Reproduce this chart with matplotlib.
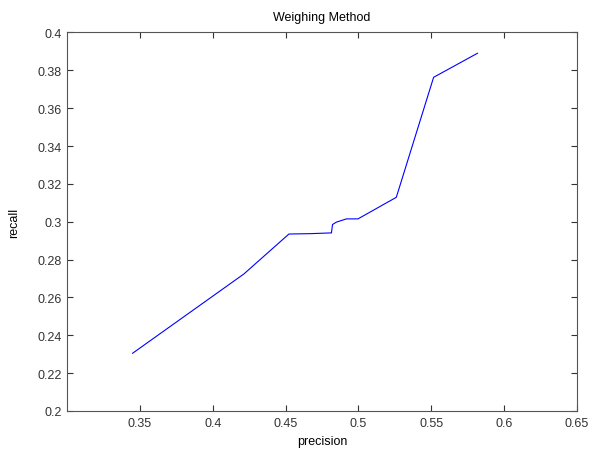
import matplotlib
matplotlib.use("Agg")
import matplotlib.pyplot as plt

# ====== Data ======
precision = [0.345, 0.4214, 0.4523, 0.4671, 0.4815, 0.4822, 0.4849, 0.4918, 0.4997, 0.526, 0.5516, 0.5817]
recall = [0.2305, 0.2724, 0.2935, 0.2937, 0.2941, 0.2985, 0.2998, 0.3015, 0.3015, 0.3129, 0.3763, 0.389]

x_ticks = [0.35, 0.4, 0.45, 0.5, 0.55, 0.6, 0.65]
x_labels = ["0.35", "0.4", "0.45", "0.5", "0.55", "0.6", "0.65"]
y_ticks = [0.2, 0.22, 0.24, 0.26, 0.28, 0.3, 0.32, 0.34, 0.36, 0.38, 0.4]
y_labels = ["0.2", "0.22", "0.24", "0.26", "0.28", "0.3", "0.32", "0.34", "0.36", "0.38", "0.4"]

plt.rcParams['font.family'] = ['Liberation Sans', 'DejaVu Sans']

fig = plt.figure(figsize=(5.93, 4.52), dpi=100)
ax = fig.add_axes([0.113, 0.0885, 0.860, 0.8375])

ax.plot(precision, recall, color="blue", linewidth=0.8)

ax.set_xlim(0.3, 0.65)
ax.set_ylim(0.2, 0.4)
ax.set_xticks(x_ticks)
ax.set_xticklabels(x_labels)
ax.set_yticks(y_ticks)
ax.set_yticklabels(y_labels)

ax.tick_params(direction="in", top=True, right=True, length=4, width=0.8,
               labelsize=9, colors="#333333", pad=4)
for s in ax.spines.values():
    s.set_color("#555555")
    s.set_linewidth(0.8)

ax.set_title("Weighing Method", fontsize=9, pad=9)
ax.set_xlabel("precision", fontsize=9, labelpad=5)
ax.set_ylabel("recall", fontsize=9, labelpad=12)

fig.savefig("out.png", dpi=100)
